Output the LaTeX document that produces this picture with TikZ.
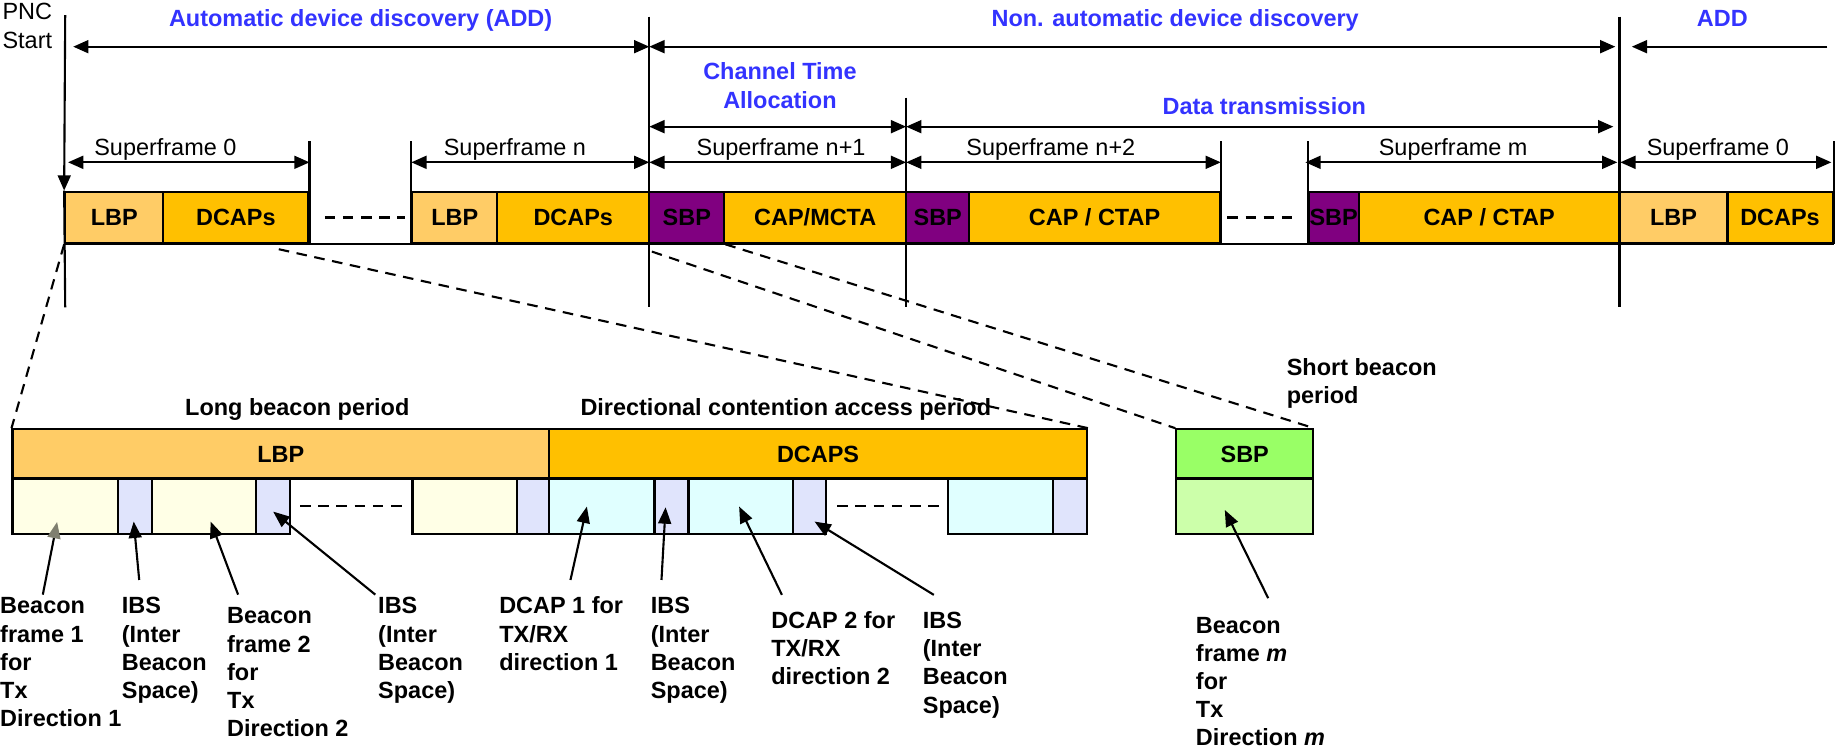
\documentclass[tikz,border=0pt]{standalone}
\usepackage{fontspec}
\setmainfont{Liberation Sans}
\usetikzlibrary{arrows.meta,calc}
\definecolor{lbpc}{HTML}{FFCC66}
\definecolor{dcapc}{HTML}{FFC000}
\definecolor{sbpc}{HTML}{800080}
\definecolor{sbpg}{HTML}{99FF66}
\definecolor{sbplg}{HTML}{CCFFAA}
\definecolor{ivoryc}{HTML}{FFFFE6}
\definecolor{lavc}{HTML}{E0E4FC}
\definecolor{cyanc}{HTML}{E0FFFF}
\definecolor{titlec}{HTML}{3333FF}
\definecolor{headgray}{HTML}{7F7F70}
\newcommand\fsz{\fontsize{20pt}{24pt}\selectfont}
\newcommand\mybox[7]{%
  \node[boxst, fill=#2, minimum width={#4-#3}, minimum height={#6-#5}] (#1) at ({(#3+#4)/2},{(#5+#6)/2}) {#7};}
\tikzset{
  ln/.style={line width=1.8pt},
  boxst/.style={draw, line width=1.8pt, inner sep=0pt, font=\fsz\bfseries, text height=14.3pt, text depth=0pt},
  dbl/.style={line width=1.8pt, {Triangle[length=13pt,width=11pt]}-{Triangle[length=13pt,width=11pt]}},
  arr/.style={line width=1.8pt, -{Triangle[length=13pt,width=11pt]}},
  ptr/.style={line width=1.8pt, -{Triangle[length=14pt,width=11pt]}},
  dsh/.style={line width=1.8pt, dash pattern=on 9pt off 6.5pt},
  lbl/.style={inner sep=0pt, font=\fsz, anchor=base},
  blbl/.style={inner sep=0pt, font=\fsz\bfseries, anchor=base west},
  ttl/.style={inner sep=0pt, font=\fsz\bfseries, text=titlec, anchor=base},
}
\begin{document}
\begin{tikzpicture}[x=1pt,y=-1pt]
\useasboundingbox[fill=white] (0,0) rectangle (1568,640.3);
% ---------- top row boxes
\mybox{t1}{lbpc}{55.6}{139.2}{163.4}{207.4}{LBP}
\mybox{t2}{dcapc}{139.2}{263}{163.4}{207.4}{DCAPs}
\mybox{t3}{lbpc}{351.6}{424}{163.4}{207.4}{LBP}
\mybox{t4}{dcapc}{424}{553.6}{163.4}{207.4}{DCAPs}
\mybox{t5}{sbpc}{553.6}{617.6}{163.4}{207.4}{SBP}
\mybox{t6}{dcapc}{617.6}{772.6}{163.4}{207.4}{CAP/MCTA}
\mybox{t7}{sbpc}{772.6}{826.5}{163.4}{207.4}{SBP}
\mybox{t8}{dcapc}{826.5}{1040}{163.4}{207.4}{CAP / CTAP}
\mybox{t9}{sbpc}{1115.8}{1158.5}{163.4}{207.4}{SBP}
\mybox{t10}{dcapc}{1158.5}{1380.8}{163.4}{207.4}{CAP / CTAP}
\mybox{t11}{lbpc}{1380.8}{1472.9}{163.4}{207.4}{LBP}
\mybox{t12}{dcapc}{1472.9}{1562.5}{163.4}{207.4}{DCAPs}
\draw[ln] (t1.south west) -- (t12.south east);
\draw[dsh] ([xshift=13pt]t2.east) -- ([xshift=-5pt]t3.west);
\draw[dsh] ([xshift=5.6pt]t8.east) -- ([xshift=-12.8pt]t9.west);
% ---------- vertical lines
\coordinate (v1t) at (55.6,12.8);  \coordinate (v1b) at (55.6,262);
\coordinate (v2t) at (553.6,14.2); \coordinate (v2b) at (553.6,262);
\coordinate (v3t) at (772.6,83.3); \coordinate (v3b) at (772.6,262);
\coordinate (v4t) at (1380.8,14.2); \coordinate (v4b) at (1380.8,262);
\draw[arr] (v1t) -- (t1.north west);
\draw[ln] (t1.north west) -- (v1b);
\draw[ln] (v2t) -- (v2b);
\draw[ln] (v3t) -- (v3b);
\draw[ln] (v4t) -- (v4b);
\coordinate (tk) at (0,120);
\draw[ln] (t2.south east) -- (t2.south east |- tk);
\draw[ln] (t3.south west) -- (t3.south west |- tk);
\draw[ln] (t8.south east) -- (t8.south east |- tk);
\draw[ln] (t9.south west) -- (t9.south west |- tk);
\draw[ln] (t12.south east) -- (t12.south east |- tk);
% ---------- period arrows
\coordinate (a1l) at (62.4,39.8);
\coordinate (a2r) at (1377.3,39.8);
\coordinate (a3l) at (1391.3,39.8);
\coordinate (a3r) at (1558,39.8);
\draw[dbl] (a1l) -- (v2t |- a1l);
\draw[dbl] (v2t |- a1l) -- (a2r);
\draw[arr] (a3r) -- (a3l);
\coordinate (c1r) at (1375.6,108);
\draw[dbl] (v2t |- c1r) -- (v3t |- c1r);
\draw[dbl] (v3t |- c1r) -- (c1r);
\coordinate (s0l) at (58,138.4);
\coordinate (smr) at (1379,138.4);
\coordinate (sml) at (1113,138.4);
\coordinate (s0r) at (1561.5,138.4);
\coordinate (s0x) at (1381.5,138.4);
\draw[dbl] (s0l) -- (t2.south east |- s0l);
\draw[dbl] (t3.south west |- s0l) -- (v2t |- s0l);
\draw[dbl] (v2t |- s0l) -- (v3t |- s0l);
\draw[dbl] (v3t |- s0l) -- (t8.south east |- s0l);
\draw[dbl] (sml) -- (smr);
\draw[dbl] (s0x) -- (s0r);
% ---------- top texts
\node[lbl, anchor=base west] (pnc) at (2,17) {\begin{tabular}[t]{@{}l@{}}PNC\\Start\end{tabular}};
\node[ttl] (ttl1) at (307.5,23) {Automatic device discovery (ADD)};
\node[ttl] (ttl2) at (1002,23) {Non. automatic device discovery};
\node[ttl] (ttl3) at (1468.5,23) {ADD};
\node[ttl] (ttl4) at (665,68.2) {\begin{tabular}[t]{@{}c@{}}Channel Time\\Allocation\end{tabular}};
\node[ttl] (ttl5) at (1078,98) {Data transmission};
\node[lbl] (sf1) at (141,133) {Superframe 0};
\node[lbl] (sf2) at (439,133) {Superframe n};
\node[lbl] (sf3) at (666,133) {Superframe n+1};
\node[lbl] (sf4) at (896,133) {Superframe n+2};
\node[lbl] (sf5) at (1239,133) {Superframe m};
\node[lbl] (sf6) at (1464.7,133) {Superframe 0};
% ---------- bottom boxes
\mybox{b1}{lbpc}{10.7}{468}{366}{408}{LBP}
\mybox{b2}{dcapc}{468}{927}{366}{408}{DCAPS}
\mybox{g1}{sbpg}{1003}{1119.6}{366}{408}{SBP}
\mybox{g2}{sbplg}{1003}{1119.6}{408}{455}{}
\mybox{s1}{ivoryc}{10.7}{100.5}{408}{455}{}
\mybox{s2}{lavc}{100.5}{129.5}{408}{455}{}
\mybox{s3}{ivoryc}{129.5}{218.6}{408}{455}{}
\mybox{s4}{lavc}{218.6}{247}{408}{455}{}
\mybox{s5}{ivoryc}{351.7}{441}{408}{455}{}
\mybox{s6}{lavc}{441}{468}{408}{455}{}
\mybox{s7}{cyanc}{468}{558}{408}{455}{}
\mybox{s8}{lavc}{558}{587}{408}{455}{}
\mybox{s9}{cyanc}{587}{676}{408}{455}{}
\mybox{s10}{lavc}{676}{704}{408}{455}{}
\mybox{s11}{cyanc}{808}{898}{408}{455}{}
\mybox{s12}{lavc}{898}{927}{408}{455}{}
\draw[dsh] ([xshift=8pt]s4.east) -- ([xshift=-7pt]s5.west);
\draw[dsh] ([xshift=9pt]s10.east) -- ([xshift=-6pt]s11.west);
% ---------- headings
\node[blbl, anchor=base] (h1) at (253.5,354.4) {Long beacon period};
\node[blbl, anchor=base] (h2) at (670,354.4) {Directional contention access period};
\node[blbl] (h3) at (1097,320.3) {\begin{tabular}[t]{@{}l@{}}Short beacon\\period\end{tabular}};
% ---------- zoom (dashed) lines
\draw[dsh] (t1.south west) -- (b1.north west);
\coordinate (cs1) at (237.7,212.5);
\draw[dsh] (cs1) -- (b2.north east);
\coordinate (cs2) at (555.8,214.5);
\draw[dsh] (cs2) -- (g1.north west);
\draw[dsh] (t5.south east) -- (g1.north east);
% ---------- bottom labels
\node[blbl] (l1) at (0,523.4) {\begin{tabular}[t]{@{}l@{}}Beacon\\frame 1\\for\\Tx\\Direction 1\end{tabular}};
\node[blbl] (l2) at (103.7,523.4) {\begin{tabular}[t]{@{}l@{}}IBS\\(Inter\\Beacon\\Space)\end{tabular}};
\node[blbl] (l3) at (193.5,532) {\begin{tabular}[t]{@{}l@{}}Beacon\\frame 2\\for\\Tx\\Direction 2\end{tabular}};
\node[blbl] (l4) at (322.3,523.4) {\begin{tabular}[t]{@{}l@{}}IBS\\(Inter\\Beacon\\Space)\end{tabular}};
\node[blbl] (l5) at (425.5,523.4) {\begin{tabular}[t]{@{}l@{}}DCAP 1 for\\TX/RX\\direction 1\end{tabular}};
\node[blbl] (l6) at (554.7,523.4) {\begin{tabular}[t]{@{}l@{}}IBS\\(Inter\\Beacon\\Space)\end{tabular}};
\node[blbl] (l7) at (657.5,536) {\begin{tabular}[t]{@{}l@{}}DCAP 2 for\\TX/RX\\direction 2\end{tabular}};
\node[blbl] (l8) at (786.7,536) {\begin{tabular}[t]{@{}l@{}}IBS\\(Inter\\Beacon\\Space)\end{tabular}};
\node[blbl] (l9) at (1019.5,540) {\begin{tabular}[t]{@{}l@{}}Beacon\\frame \textit{m}\\for\\Tx\\Direction \textit{m}\end{tabular}};
% ---------- pointer arrows
\coordinate (p1a) at (36.5,507);   \coordinate (p1b) at (48.7,445);
\coordinate (p2a) at (118.7,494.5); \coordinate (p2b) at (114,444.7);
\coordinate (p3a) at (203,507);    \coordinate (p3b) at (179.6,444.7);
\coordinate (p4a) at (320,507);    \coordinate (p4b) at (232.9,436.2);
\coordinate (p5a) at (486.4,494.5); \coordinate (p5b) at (500.4,431.9);
\coordinate (p6a) at (564,494.5);  \coordinate (p6b) at (567.5,432.5);
\coordinate (p7a) at (666.7,507.2); \coordinate (p7b) at (630.2,431.9);
\coordinate (p8a) at (796.2,507.2); \coordinate (p8b) at (694.5,444.7);
\coordinate (p9a) at (1081.3,510); \coordinate (p9b) at (1044.3,434.8);
\draw[line width=1.8pt, -{Triangle[length=14pt,width=11pt,color=headgray]}] (p1a) -- (p1b);
\draw[ptr] (p2a) -- (p2b);
\draw[ptr] (p3a) -- (p3b);
\draw[ptr] (p4a) -- (p4b);
\draw[ptr] (p5a) -- (p5b);
\draw[ptr] (p6a) -- (p6b);
\draw[ptr] (p7a) -- (p7b);
\draw[ptr] (p8a) -- (p8b);
\draw[ptr] (p9a) -- (p9b);
\end{tikzpicture}
\end{document}
